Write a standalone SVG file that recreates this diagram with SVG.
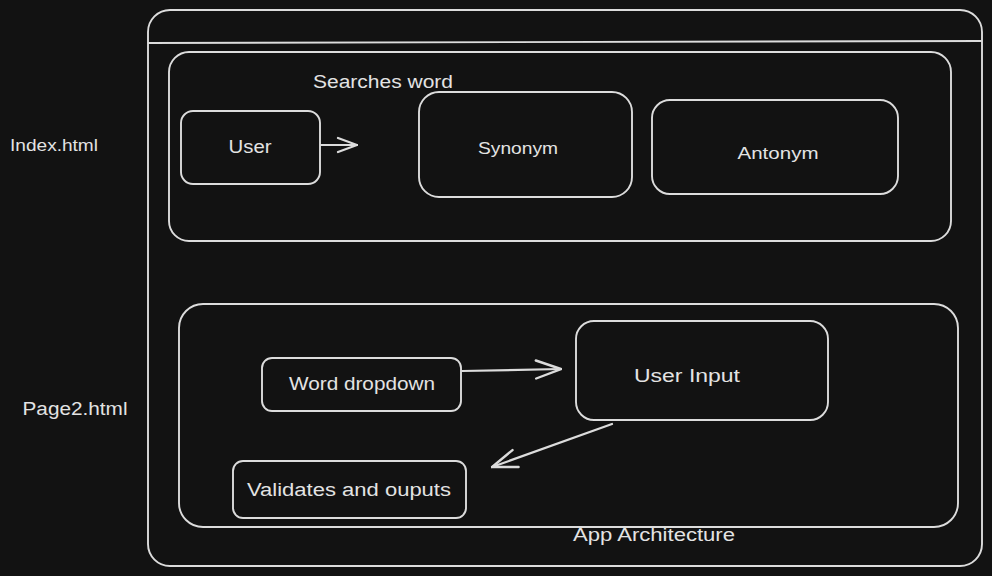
<svg xmlns="http://www.w3.org/2000/svg" width="992" height="576" viewBox="0 0 992 576">
<style>
.box{fill:none;stroke:#dcdcdc;stroke-width:1.9}
.t{font-family:"Liberation Sans",Arial,sans-serif;fill:#e3e3e3;text-anchor:middle;dominant-baseline:central}
.c{fill:none;stroke:#dcdcdc;stroke-width:2.2;stroke-linecap:round;stroke-linejoin:round}
</style>
<defs>
<marker id="ah" viewBox="0 0 22 18" refX="21" refY="9" markerWidth="22" markerHeight="18" markerUnits="userSpaceOnUse" orient="auto">
<path d="M2 2 L21 9 L2 16" fill="none" stroke="#dcdcdc" stroke-width="2.2" stroke-linecap="round"/>
</marker>
<marker id="ahl" viewBox="0 0 28 22" refX="27" refY="11" markerWidth="28" markerHeight="22" markerUnits="userSpaceOnUse" orient="auto">
<path d="M2 2 L27 11 L2 20" fill="none" stroke="#dcdcdc" stroke-width="2.4" stroke-linecap="round"/>
</marker>
</defs>
<rect width="992" height="576" fill="#121212"/>
<g id="app">
<rect class="box" x="148" y="10" width="834" height="556" rx="22"/>
<path class="box" d="M148 43 L982 41"/>
<text class="t" x="654" y="535" font-size="18" textLength="162" lengthAdjust="spacingAndGlyphs">App Architecture</text>
</g>
<g id="index-section">
<rect class="box" x="169" y="52" width="782" height="189" rx="20"/>
<text class="t" x="383" y="82" font-size="18" textLength="140" lengthAdjust="spacingAndGlyphs">Searches word</text>
</g>
<g id="page2-section">
<rect class="box" x="179" y="304" width="779" height="223" rx="24"/>
</g>
<g id="label-index"><text class="t" x="54" y="145" font-size="16" textLength="88" lengthAdjust="spacingAndGlyphs">Index.html</text></g>
<g id="label-page2"><text class="t" x="75" y="409" font-size="18" textLength="105" lengthAdjust="spacingAndGlyphs">Page2.html</text></g>
<g id="user">
<rect class="box" x="181" y="111" width="139" height="73" rx="12"/>
<text class="t" x="250" y="147" font-size="18" textLength="43" lengthAdjust="spacingAndGlyphs">User</text>
</g>
<g id="synonym">
<rect class="box" x="419" y="92" width="213" height="105" rx="20"/>
<text class="t" x="518" y="148" font-size="17" textLength="80" lengthAdjust="spacingAndGlyphs">Synonym</text>
</g>
<g id="antonym">
<rect class="box" x="652" y="100" width="246" height="94" rx="18"/>
<text class="t" x="778" y="153" font-size="17" textLength="81" lengthAdjust="spacingAndGlyphs">Antonym</text>
</g>
<g id="word-dropdown">
<rect class="box" x="262" y="358" width="199" height="53" rx="10"/>
<text class="t" x="362" y="384" font-size="18" textLength="146" lengthAdjust="spacingAndGlyphs">Word dropdown</text>
</g>
<g id="user-input">
<rect class="box" x="576" y="321" width="252" height="99" rx="18"/>
<text class="t" x="687" y="376" font-size="18" textLength="106" lengthAdjust="spacingAndGlyphs">User Input</text>
</g>
<g id="validates">
<rect class="box" x="233" y="461" width="233" height="57" rx="10"/>
<text class="t" x="349" y="490" font-size="18" textLength="204" lengthAdjust="spacingAndGlyphs">Validates and ouputs</text>
</g>
<g id="connectors">
<path class="c" d="M321 145 L357 145" marker-end="url(#ah)"/>
<path class="c" d="M462 371 L561 369" marker-end="url(#ahl)"/>
<path class="c" d="M612 424 L492 467" marker-end="url(#ahl)"/>
</g>
</svg>
